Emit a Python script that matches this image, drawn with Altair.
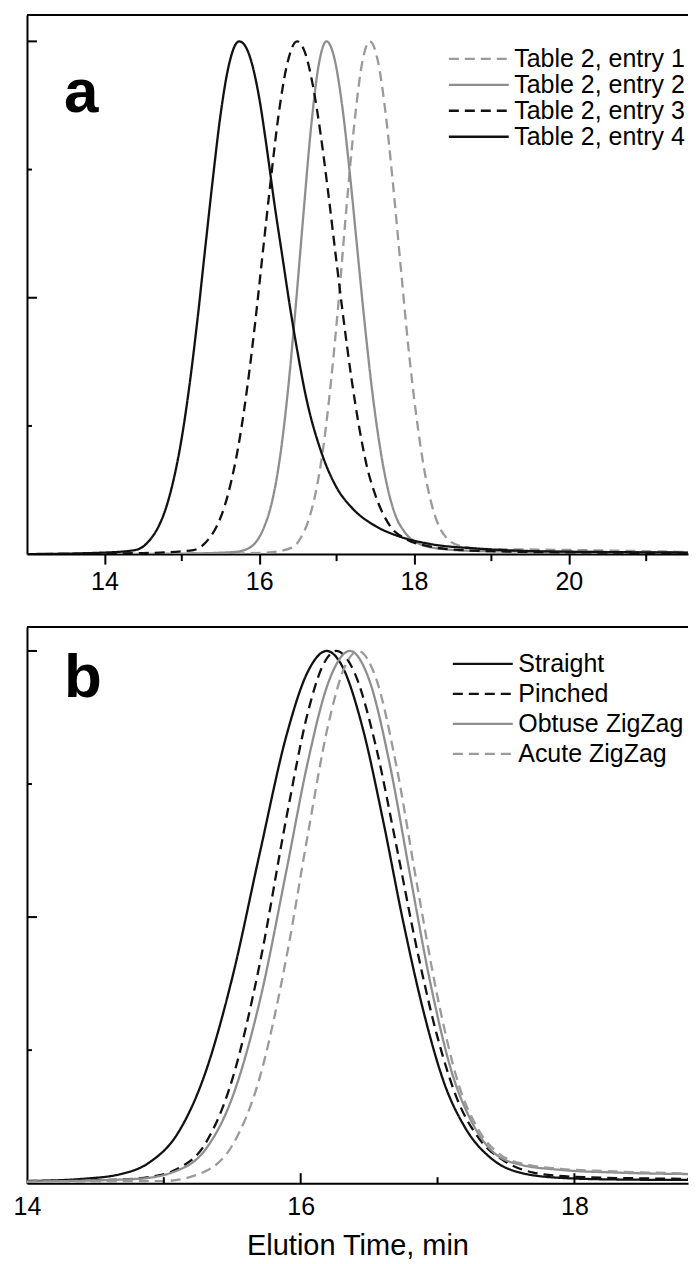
import altair as alt
import pandas as pd

FONT = "Liberation Sans"
GRAY = "#8e8e8e"
LGRAY = "#9a9a9a"
BLACK = "#111111"

# ---------------- panel a data ----------------
a_names = ["Table 2, entry 1", "Table 2, entry 2", "Table 2, entry 3", "Table 2, entry 4"]

e1_x = [13.0, 15.5, 16.1, 16.43, 16.53, 16.63, 16.73, 16.83, 16.93, 17.03, 17.13, 17.23, 17.33, 17.43,
        17.53, 17.63, 17.73, 17.83, 17.93, 18.03, 18.13, 18.23, 18.33, 18.43, 18.6, 18.9, 19.5, 20.5, 21.6]
e1_y = [0.0, 0.001, 0.003, 0.013, 0.03, 0.063, 0.12, 0.21, 0.34, 0.50, 0.68, 0.84, 0.958, 1.0,
        0.964, 0.864, 0.72, 0.558, 0.40, 0.27, 0.167, 0.096, 0.052, 0.03, 0.016, 0.01, 0.009, 0.007, 0.004]

e2_x = [13.0, 15.0, 15.67, 15.87, 15.97, 16.07, 16.17, 16.27, 16.37, 16.47, 16.57, 16.67, 16.77, 16.87,
        16.97, 17.07, 17.17, 17.27, 17.37, 17.47, 17.57, 17.67, 17.77, 17.87, 18.07, 18.37, 18.87, 19.6, 20.6, 21.6]
e2_y = [0.0, 0.001, 0.004, 0.012, 0.026, 0.055, 0.105, 0.19, 0.317, 0.48, 0.66, 0.832, 0.955, 1.0,
        0.968, 0.877, 0.744, 0.591, 0.44, 0.306, 0.20, 0.122, 0.072, 0.045, 0.02, 0.01, 0.006, 0.005, 0.004, 0.003]

e3_x = [13.0, 14.5, 15.15, 15.35, 15.45, 15.55, 15.65, 15.75, 15.85, 15.95, 16.05, 16.15, 16.25, 16.35, 16.49,
        16.59, 16.69, 16.79, 16.89, 16.99, 17.09, 17.19, 17.29, 17.39, 17.49, 17.69, 17.89, 18.2, 18.6, 19.2, 20.5, 21.6]
e3_y = [0.0, 0.002, 0.008, 0.03, 0.054, 0.092, 0.149, 0.227, 0.33, 0.454, 0.593, 0.73, 0.856, 0.948, 1.0,
        0.979, 0.917, 0.823, 0.707, 0.581, 0.458, 0.345, 0.249, 0.172, 0.12, 0.055, 0.03, 0.015, 0.008, 0.005, 0.003, 0.002]

e4_x = [13.0, 14.0, 14.4, 14.6, 14.7, 14.8, 14.9, 15.0, 15.1, 15.2, 15.3, 15.4, 15.5, 15.6, 15.74,
        15.8, 15.9, 16.0, 16.1, 16.2, 16.3, 16.4, 16.5, 16.6, 16.8, 17.0, 17.2, 17.5, 17.8, 18.2, 18.8, 19.5, 20.5, 21.6]
e4_y = [0.0, 0.003, 0.008, 0.03, 0.054, 0.092, 0.149, 0.227, 0.33, 0.454, 0.593, 0.73, 0.856, 0.948, 1.0,
        0.995, 0.96, 0.89, 0.79, 0.68, 0.58, 0.48, 0.39, 0.31, 0.20, 0.13, 0.09, 0.055, 0.035, 0.02, 0.011, 0.006, 0.004, 0.003]

a_colors = [LGRAY, GRAY, BLACK, BLACK]
a_dashes = [[10, 6], [1, 0], [10, 6], [1, 0]]

a_ticks_x_minor = [15, 17, 19, 21]
a_tick_labels = [14, 16, 18, 20]

# ---------------- panel b data ----------------
b_names = ["Straight", "Pinched", "Obtuse ZigZag", "Acute ZigZag"]

st_x = [14.0, 14.4, 14.7, 14.9, 15.1, 15.3, 15.5, 15.7, 15.9, 16.05, 16.19, 16.3, 16.45, 16.6, 16.75,
        16.9, 17.05, 17.2, 17.4, 17.6, 17.9, 18.3, 18.9]
st_y = [0.004, 0.008, 0.018, 0.04, 0.093, 0.205, 0.386, 0.619, 0.845, 0.96, 1.0, 0.973, 0.858, 0.684, 0.49,
        0.32, 0.187, 0.105, 0.045, 0.02, 0.01, 0.007, 0.006]

pi_x = [14.0, 14.6, 14.9, 15.1, 15.3, 15.5, 15.7, 15.9, 16.05, 16.15, 16.26, 16.4, 16.55, 16.7, 16.85,
        17.0, 17.15, 17.3, 17.5, 17.7, 18.0, 18.5, 18.9]
pi_y = [0.004, 0.006, 0.012, 0.027, 0.073, 0.195, 0.411, 0.693, 0.882, 0.966, 1.0, 0.955, 0.82, 0.633, 0.439,
        0.274, 0.154, 0.085, 0.04, 0.02, 0.012, 0.009, 0.008]

ob_x = [14.0, 14.8, 15.1, 15.3, 15.5, 15.7, 15.9, 16.05, 16.2, 16.36, 16.5, 16.65, 16.8, 16.95, 17.1,
        17.25, 17.4, 17.6, 17.9, 18.3, 18.9]
ob_y = [0.003, 0.008, 0.024, 0.062, 0.161, 0.341, 0.593, 0.789, 0.939, 1.0, 0.946, 0.788, 0.578, 0.373, 0.212,
        0.115, 0.06, 0.035, 0.025, 0.02, 0.017]

ac_x = [14.0, 15.0, 15.3, 15.5, 15.7, 15.9, 16.05, 16.2, 16.32, 16.42, 16.55, 16.7, 16.85, 17.0, 17.15,
        17.3, 17.45, 17.65, 17.9, 18.3, 18.9]
ac_y = [0.003, 0.004, 0.022, 0.071, 0.198, 0.43, 0.652, 0.86, 0.969, 1.0, 0.949, 0.783, 0.561, 0.35, 0.189,
        0.1, 0.055, 0.035, 0.027, 0.022, 0.018]

b_colors = [BLACK, BLACK, GRAY, LGRAY]
b_dashes = [[1, 0], [10, 6], [1, 0], [10, 6]]

b_ticks_x_major = [16, 18]
b_ticks_x_minor = [15, 17]
b_tick_labels = [14, 16, 18]

y_ticks_major = [0.5, 1.0]
y_ticks_minor = [0.25, 0.75]


def long_df(names, xs, ys, field):
    rows = []
    for n, xx, yy in zip(names, xs, ys):
        for xv, yv in zip(xx, yy):
            rows.append({field: n, "t": xv, "v": yv})
    return pd.DataFrame(rows)


df_a = long_df(a_names, [e1_x, e2_x, e3_x, e4_x], [e1_y, e2_y, e3_y, e4_y], "sa")
df_b = long_df(b_names, [st_x, pi_x, ob_x, ac_x], [st_y, pi_y, ob_y, ac_y], "sb")

W = 662
HA = 540
HB = 557
LW = 2.3


def make_legend(x, y, rowpad, rowh):
    return alt.Legend(title=None, orient="none", legendX=x, legendY=y, symbolType="M-1,0L1,0",
                      symbolSize=3600, symbolStrokeWidth=LW, labelFont=FONT, labelFontSize=25,
                      labelColor="black", labelOffset=4, rowPadding=rowpad, padding=0,
                      symbolOffset=0, labelLimit=400, clipHeight=rowh)


def inward_y_ticks(values, length):
    return alt.Chart(pd.DataFrame({"v": values})).mark_rule(color="black", strokeWidth=2).encode(
        y="v:Q", x=alt.value(0), x2=alt.value(length))


def top_border():
    return alt.Chart(pd.DataFrame({"v": [0]})).mark_rule(color="black", strokeWidth=2).encode(
        y=alt.value(0), x=alt.value(0), x2=alt.value(W))


# ---------------- panel a ----------------
xa = alt.X("t:Q", scale=alt.Scale(domain=[13, 21.54], nice=False, zero=False),
           axis=alt.Axis(values=a_tick_labels, format="d", tickSize=10, tickWidth=2, domainWidth=2,
                         labelFontSize=25, labelPadding=5, title=None, grid=False, labelFlush=False))
ya = alt.Y("v:Q", scale=alt.Scale(domain=[0, 1.0516], nice=False, zero=False),
           axis=alt.Axis(ticks=False, labels=False, domainWidth=2, title=None, grid=False))
leg_a = make_legend(421, 31, 0, 26)

lines_a = alt.Chart(df_a).mark_line(clip=True, strokeWidth=LW, interpolate="monotone").encode(
    x=xa, y=ya,
    color=alt.Color("sa:N", scale=alt.Scale(domain=a_names, range=a_colors), legend=leg_a),
    strokeDash=alt.StrokeDash("sa:N", scale=alt.Scale(domain=a_names, range=a_dashes), legend=leg_a),
)
minor_a = alt.Chart(pd.DataFrame({"t": a_ticks_x_minor})).mark_rule(color="black", strokeWidth=2).encode(
    x="t:Q", y=alt.value(HA), y2=alt.value(HA + 7))
label_a = alt.Chart(pd.DataFrame({"v": [0]})).mark_text(
    text="a", font=FONT, fontSize=62, fontWeight="bold", align="left", baseline="alphabetic",
    color="black").encode(x=alt.datum(13.477), y=alt.datum(0.863))

panel_a = alt.layer(lines_a, minor_a, inward_y_ticks(y_ticks_major, 10), inward_y_ticks(y_ticks_minor, 5),
                    top_border(), label_a).properties(width=W, height=HA)

# ---------------- panel b ----------------
xb = alt.X("t:Q", scale=alt.Scale(domain=[14, 18.83], nice=False, zero=False),
           axis=alt.Axis(values=b_tick_labels, format="d", ticks=False, domainWidth=2,
                         labelFontSize=25, labelPadding=11, title="Elution Time, min",
                         titleFontSize=29, titleFontWeight="normal", titlePadding=12,
                         grid=False, labelFlush=False))
yb = alt.Y("v:Q", scale=alt.Scale(domain=[0, 1.045], nice=False, zero=False),
           axis=alt.Axis(ticks=False, labels=False, domainWidth=2, title=None, grid=False))
leg_b = make_legend(425, 24, 4, 26)

lines_b = alt.Chart(df_b).mark_line(clip=True, strokeWidth=LW, interpolate="monotone").encode(
    x=xb, y=yb,
    color=alt.Color("sb:N", scale=alt.Scale(domain=b_names, range=b_colors), legend=leg_b),
    strokeDash=alt.StrokeDash("sb:N", scale=alt.Scale(domain=b_names, range=b_dashes), legend=leg_b),
)
major_b = alt.Chart(pd.DataFrame({"t": b_ticks_x_major})).mark_rule(color="black", strokeWidth=2).encode(
    x="t:Q", y=alt.value(HB), y2=alt.value(HB - 10))
minor_b = alt.Chart(pd.DataFrame({"t": b_ticks_x_minor})).mark_rule(color="black", strokeWidth=2).encode(
    x="t:Q", y=alt.value(HB), y2=alt.value(HB - 6))
label_b = alt.Chart(pd.DataFrame({"v": [0]})).mark_text(
    text="b", font=FONT, fontSize=62, fontWeight="bold", align="left", baseline="alphabetic",
    color="black").encode(x=alt.datum(14.27), y=alt.datum(0.913))

panel_b = alt.layer(lines_b, major_b, minor_b, inward_y_ticks(y_ticks_major, 10),
                    inward_y_ticks(y_ticks_minor, 5), top_border(), label_b).properties(width=W, height=HB)

chart = alt.vconcat(panel_a, panel_b, spacing=32).resolve_scale(
    x="independent", y="independent", color="independent", strokeDash="independent"
).resolve_legend(color="independent", strokeDash="independent").properties(
    padding={"left": 5, "top": 5, "right": 0, "bottom": 5}
).configure_view(strokeWidth=0).configure_axis(
    domainColor="black", tickColor="black", labelColor="black", titleColor="black",
    labelFont=FONT, titleFont=FONT
)

chart.save("out.html", embed_options={"renderer": "svg", "actions": False})
